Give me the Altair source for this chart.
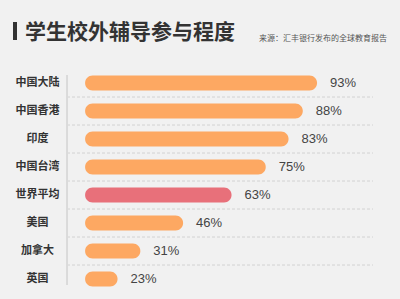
import altair as alt
import pandas as pd

categories = ["中国大陆", "中国香港", "印度", "中国台湾", "世界平均", "美国", "加拿大", "英国"]
values = [93, 88, 83, 75, 63, 46, 31, 23]
groups = ["地区", "地区", "地区", "地区", "平均", "地区", "地区", "地区"]
labels = ["93%", "88%", "83%", "75%", "63%", "46%", "31%", "23%"]

title_text = "学生校外辅导参与程度"
source_text = "来源：汇丰银行发布的全球教育报告"

df = pd.DataFrame({"地区名": categories, "值": values, "类型": groups, "标签": labels})
grid_df = df.iloc[:-1]

CJK = "Noto Sans CJK SC"

x_scale = alt.Scale(domain=[5.26, 112.63], nice=False, zero=False)
y_enc = alt.Y("地区名:N", sort=categories,
              scale=alt.Scale(paddingInner=0.46, paddingOuter=0.23),
              axis=alt.Axis(title=None, ticks=False, domain=False, grid=False,
                            labelFont=CJK, labelFontSize=11, labelFontWeight="bold",
                            labelColor="#333333", labelPadding=30, labelAlign="center"))

grid = alt.Chart(grid_df).mark_rule(color="#d2d2d2", strokeDash=[3, 2], strokeWidth=1, yOffset=14).encode(
    y=y_enc, x=alt.value(0), x2=alt.value(306))

axis_line = alt.Chart(df).mark_rule(color="#dadada", strokeWidth=1).encode(
    x=alt.value(0), y=alt.value(6), y2=alt.value(216))

bars = alt.Chart(df).mark_bar(size=15, cornerRadius=7.5).encode(
    y=y_enc,
    x=alt.X("值:Q", scale=x_scale, axis=None),
    x2=alt.datum(11.6),
    color=alt.Color("类型:N", scale=alt.Scale(domain=["地区", "平均"], range=["#FDA862", "#E8707A"]), legend=None))

texts = alt.Chart(df).mark_text(align="left", baseline="middle", dx=13, fontSize=13,
                                font="Liberation Sans", color="#444444").encode(
    y=y_enc,
    x=alt.X("值:Q", scale=x_scale, axis=None),
    text="标签:N")

head_df = pd.DataFrame({"t": [title_text], "s": [source_text]})
title_bar = alt.Chart(head_df).mark_rect(color="#333333").encode(
    x=alt.value(-54), x2=alt.value(-50), y=alt.value(-47), y2=alt.value(-29))
title = alt.Chart(head_df).mark_text(align="left", baseline="alphabetic", font=CJK, fontSize=21,
                                     fontWeight="bold", color="#333333").encode(
    x=alt.value(-42), y=alt.value(-30), text="t:N")
source = alt.Chart(head_df).mark_text(align="right", baseline="alphabetic", font=CJK, fontSize=8,
                                      color="#555555").encode(
    x=alt.value(320), y=alt.value(-28), text="s:N")

chart = alt.layer(grid, axis_line, bars, texts, title_bar, title, source).properties(
    width=306, height=224,
    autosize=alt.AutoSizeParams(type="none"),
    padding={"left": 67, "top": 69, "right": 27, "bottom": 6},
    background="#F1F1F1"
).configure_view(stroke=None)

chart.save("out.html", embed_options={"renderer": "svg", "actions": False})
